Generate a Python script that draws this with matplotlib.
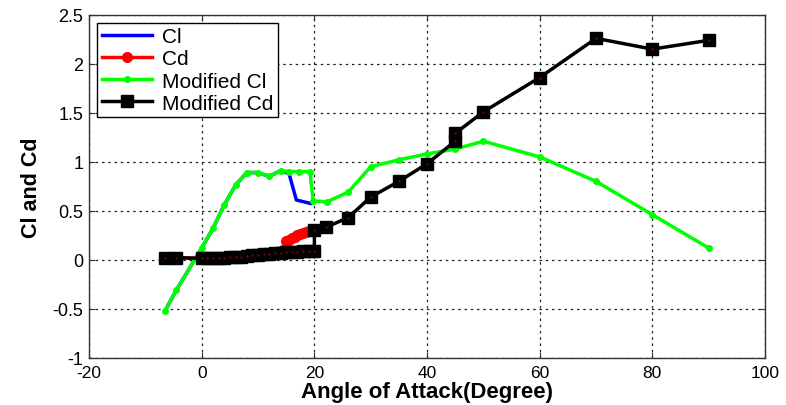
import matplotlib
matplotlib.use("Agg")
import matplotlib.pyplot as plt
from matplotlib.ticker import FormatStrFormatter

plt.rcParams['font.family'] = ['Liberation Sans', 'DejaVu Sans']
plt.rcParams['axes.unicode_minus'] = False

# original lift (blue), pre-stall part is hidden under the modified curve
cl_alpha = [-6.5, -4.5, 0, 2, 4, 6, 8, 10, 12, 14, 15.5, 16.8, 19.3]
cl = [-0.52, -0.31, 0.12, 0.32, 0.56, 0.76, 0.89, 0.89, 0.85, 0.91, 0.88, 0.61, 0.575]

# original drag (red)
cd_alpha = [-6.5, -4.5, 0, 1, 2, 3, 4, 5, 6, 7, 8, 9, 10, 11, 12, 13, 14,
            15, 15.5, 16, 16.5, 17, 17.5, 18, 18.5, 19]
cd = [0.02, 0.02, 0.015, 0.016, 0.017, 0.018, 0.02, 0.023, 0.027, 0.032,
      0.038, 0.044, 0.05, 0.056, 0.062, 0.067, 0.09, 0.19, 0.205, 0.22,
      0.235, 0.25, 0.26, 0.27, 0.28, 0.295]

# modified lift (green)
mcl_alpha = [-6.5, -4.5, 0, 2, 4, 6, 8, 10, 12, 14, 15.5, 17.3, 19.2, 19.8,
             22.2, 26, 30, 35, 40, 45, 50, 60, 70, 80, 90]
mcl = [-0.52, -0.31, 0.12, 0.32, 0.56, 0.76, 0.89, 0.89, 0.85, 0.91, 0.9,
       0.9, 0.9, 0.6, 0.59, 0.69, 0.95, 1.02, 1.08, 1.13, 1.21, 1.05, 0.8,
       0.46, 0.12]

# modified drag (black)
mcd_alpha = [-6.5, -4.5, 0, 1, 2, 3, 4, 5, 6, 7, 8, 9, 10, 11, 12, 13, 14,
             15, 16, 17, 18, 19, 20, 20, 22, 26, 30, 35, 40, 45, 45, 50, 60,
             70, 80, 90]
mcd = [0.02, 0.02, 0.015, 0.016, 0.017, 0.018, 0.02, 0.023, 0.027, 0.032,
       0.038, 0.044, 0.05, 0.056, 0.062, 0.067, 0.072, 0.076, 0.08, 0.083,
       0.086, 0.088, 0.09, 0.3, 0.33, 0.43, 0.64, 0.8, 0.98, 1.21, 1.29,
       1.51, 1.86, 2.26, 2.15, 2.24]

fig = plt.figure(figsize=(7.86, 4.06), dpi=100)
ax = fig.add_axes([0.1133, 0.1165, 0.86, 0.8445])

ax.plot(cl_alpha, cl, '-', color='#0000ff', lw=2.5, label='Cl')
ax.plot(cd_alpha, cd, '-o', color='#ff0000', lw=2.5, ms=7, label='Cd')
ax.plot(mcl_alpha, mcl, '-o', color='#00ff00', lw=2.5, ms=4, label='Modified Cl')
ax.plot(mcd_alpha, mcd, '-s', color='k', lw=2.5, ms=9, label='Modified Cd')
ax.plot(mcd_alpha, mcd, '.', color='#8b0000', ms=1.2)

ax.set_xlim(-20, 100)
ax.set_ylim(-1, 2.5)
ax.set_xticks([-20, 0, 20, 40, 60, 80, 100])
ax.set_yticks([-1, -0.5, 0, 0.5, 1, 1.5, 2, 2.5])
ax.yaxis.set_major_formatter(FormatStrFormatter('%g'))

ax.grid(True, color='#222222', linestyle=(0, (2, 3)), lw=0.9)
ax.tick_params(direction='in', length=4, top=True, right=True,
               labelsize=13, pad=4, color='#333333')
ax.tick_params(axis='x', pad=5, labelsize=12.5)
for s in ax.spines.values():
    s.set_color('#333333')
    s.set_linewidth(1)

ax.set_xlabel('Angle of Attack(Degree)', fontsize=16, fontweight='bold', labelpad=1)
ax.set_ylabel('Cl and Cd', fontsize=15.5, fontweight='bold', labelpad=8)

leg = ax.legend(loc='upper left', fontsize=15, handlelength=2.4,
                borderpad=0.2, labelspacing=0.15, handletextpad=0.5,
                fancybox=False, framealpha=1, borderaxespad=0.4)
leg.get_frame().set_edgecolor('k')
leg.get_frame().set_linewidth(1)

fig.savefig('out.png', dpi=100)
